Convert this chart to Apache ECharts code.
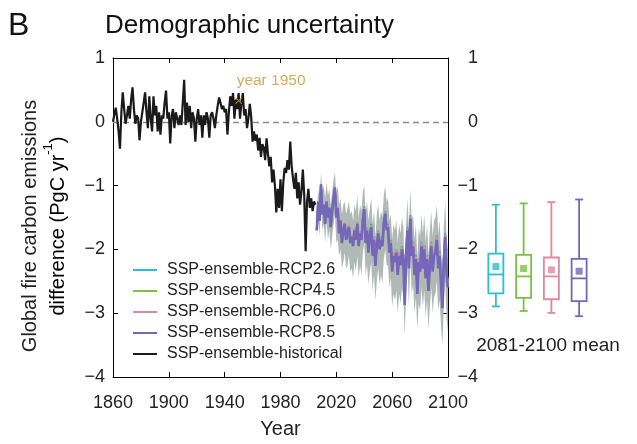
<!DOCTYPE html>
<html><head><meta charset="utf-8">
<script src="https://cdn.jsdelivr.net/npm/echarts@6/dist/echarts.min.js"></script>
<style>html,body{margin:0;padding:0;background:#fff}#c{width:637px;height:444px}</style>
</head><body><div id="c"></div>
<script>
// ---------------- data ----------------
const histStart = 1860;
const histValues = [
  0.00,0.12,0.22,0.05,-0.15,-0.42,0.15,0.46,0.20,-0.03,
  0.10,0.25,0.05,0.35,0.54,0.20,-0.03,0.10,0.06,-0.29,
  0.00,0.15,0.30,0.46,0.15,-0.10,0.40,0.05,-0.15,0.40,
  0.10,0.25,-0.15,0.15,-0.20,0.10,0.05,0.30,0.49,0.05,
  0.15,-0.34,0.10,0.20,-0.10,0.15,0.05,-0.05,0.10,-0.05,
  0.30,0.66,-0.05,0.30,0.00,0.25,-0.10,0.15,0.05,-0.31,
  0.05,0.20,-0.05,0.10,-0.25,0.10,-0.05,0.15,0.05,-0.25,
  0.10,0.15,0.05,-0.10,0.10,0.25,0.38,0.30,0.20,0.25,
  0.15,0.20,-0.20,0.15,0.40,0.25,0.45,0.05,0.35,0.20,
  0.45,0.05,0.30,0.45,0.10,0.20,-0.10,0.05,0.28,0.08,
  -0.31,-0.15,-0.30,-0.20,-0.45,-0.25,-0.55,-0.35,-0.40,-0.60,
  -0.26,-0.50,-0.70,-0.55,-0.95,-0.75,-1.00,-1.42,-1.05,-1.35,
  -0.90,-1.40,-0.95,-0.72,-0.80,-0.60,-0.75,-0.31,-0.70,-0.90,
  -1.05,-0.80,-1.20,-0.95,-1.30,-1.10,-0.75,-1.15,-2.03,-1.25,
  -1.05,-1.35,-1.20,-1.40,-1.25,-1.30
];
const futStart = 2006;
const rcp85 = [
  -1.70,-1.25,-1.55,-0.98,-1.45,-1.30,-1.60,-1.25,-1.50,-1.35,
  -1.65,-1.40,-1.20,-1.03,-1.50,-1.35,-1.75,-1.55,-1.90,-1.70,
  -1.60,-1.85,-1.75,-1.65,-1.90,-1.80,-1.95,-1.70,-1.85,-1.60,
  -1.95,-1.75,-1.85,-1.55,-1.37,-1.90,-1.70,-2.05,-1.80,-1.65,
  -2.10,-1.85,-2.26,-1.95,-1.75,-2.00,-1.85,-1.95,-1.60,-1.44,
  -1.70,-1.65,-2.05,-1.90,-2.35,-2.10,-2.20,-2.05,-2.40,-2.10,
  -2.25,-2.00,-2.15,-2.87,-2.10,-1.70,-2.30,-1.52,-2.10,-1.95,
  -2.40,-2.15,-2.70,-2.20,-2.35,-1.95,-2.30,-2.00,-2.45,-2.15,
  -2.65,-2.25,-1.95,-2.35,-2.10,-2.05,-1.85,-2.30,-2.10,-2.55,
  -2.92,-2.20,-1.80,-2.40,-2.60
];
const rcp26 = [
  -1.70,-1.25,-1.55,-0.98,-1.45,-1.30,-1.60,-1.25,-1.50,-1.35,
  -1.65,-1.40,-1.20,-1.03,-1.50,-1.35,-1.75,-1.55,-1.90,-1.70,
  -1.60,-1.84,-1.74,-1.63,-1.88,-1.78,-1.92,-1.68,-1.82,-1.57,
  -1.92,-1.72,-1.80,-1.50,-1.32,-1.86,-1.66,-2.00,-1.76,-1.60,
  -2.05,-1.80,-2.20,-1.90,-1.70,-1.95,-1.80,-1.90,-1.55,-1.40,
  -1.65,-1.60,-2.00,-1.85,-2.28,-2.05,-2.14,-2.00,-2.34,-2.05,
  -2.18,-1.95,-2.08,-2.80,-2.04,-1.64,-2.24,-1.46,-2.04,-1.88,
  -2.34,-2.08,-2.64,-2.14,-2.28,-1.88,-2.24,-1.94,-2.38,-2.08,
  -2.58,-2.18,-1.88,-2.28,-2.04,-1.98,-1.78,-2.24,-2.02,-2.48,
  -2.86,-2.14,-1.74,-2.34,-2.54
];
const rcp45 = [
  -1.70,-1.25,-1.55,-0.98,-1.45,-1.30,-1.60,-1.25,-1.50,-1.35,
  -1.65,-1.40,-1.20,-1.03,-1.50,-1.35,-1.75,-1.55,-1.90,-1.70,
  -1.60,-1.85,-1.74,-1.64,-1.89,-1.79,-1.94,-1.69,-1.84,-1.58,
  -1.93,-1.73,-1.82,-1.52,-1.34,-1.88,-1.68,-2.02,-1.78,-1.62,
  -2.07,-1.82,-2.22,-1.92,-1.72,-1.97,-1.82,-1.92,-1.57,-1.42,
  -1.67,-1.62,-2.02,-1.87,-2.31,-2.07,-2.17,-2.02,-2.37,-2.07,
  -2.21,-1.97,-2.11,-2.83,-2.07,-1.67,-2.27,-1.49,-2.07,-1.91,
  -2.37,-2.11,-2.67,-2.17,-2.31,-1.91,-2.27,-1.97,-2.41,-2.11,
  -2.61,-2.21,-1.91,-2.31,-2.07,-2.01,-1.81,-2.27,-2.06,-2.51,
  -2.89,-2.17,-1.77,-2.37,-2.57
];
const rcp60 = [
  -1.70,-1.25,-1.55,-0.98,-1.45,-1.30,-1.60,-1.25,-1.50,-1.35,
  -1.65,-1.40,-1.20,-1.03,-1.50,-1.35,-1.75,-1.55,-1.90,-1.70,
  -1.58,-1.83,-1.72,-1.62,-1.86,-1.77,-1.92,-1.67,-1.83,-1.58,
  -1.93,-1.73,-1.83,-1.53,-1.35,-1.88,-1.68,-2.03,-1.78,-1.63,
  -2.06,-1.82,-2.20,-1.91,-1.72,-1.97,-1.82,-1.93,-1.57,-1.42,
  -1.67,-1.62,-2.02,-1.88,-2.30,-2.06,-2.16,-2.02,-2.36,-2.06,
  -2.20,-1.97,-2.10,-2.82,-2.06,-1.67,-2.26,-1.49,-2.06,-1.91,
  -2.36,-2.11,-2.66,-2.16,-2.31,-1.90,-2.26,-1.96,-2.41,-2.10,
  -2.60,-2.21,-1.90,-2.30,-2.06,-2.00,-1.80,-2.26,-2.06,-2.50,
  -2.88,-2.16,-1.77,-2.36,-2.56
];
const bandUpper = [
  -1.45,-1.05,-1.25,-0.80,-1.10,-1.00,-1.20,-0.95,-1.15,-1.05,
  -1.30,-1.10,-0.90,-0.80,-1.15,-1.00,-1.30,-1.20,-1.45,-1.30,
  -1.25,-1.45,-1.35,-1.25,-1.45,-1.40,-1.55,-1.30,-1.40,-1.15,
  -1.50,-1.30,-1.40,-1.10,-1.00,-1.45,-1.25,-1.55,-1.35,-1.20,
  -1.60,-1.40,-1.80,-1.45,-1.30,-1.55,-1.40,-1.50,-1.15,-1.00,
  -1.25,-1.20,-1.55,-1.45,-1.85,-1.60,-1.70,-1.55,-1.90,-1.60,
  -1.75,-1.50,-1.65,-2.30,-1.60,-1.20,-1.75,-1.05,-1.55,-1.45,
  -1.85,-1.60,-2.15,-1.65,-1.80,-1.45,-1.75,-1.45,-1.90,-1.60,
  -2.10,-1.70,-1.40,-1.80,-1.55,-1.50,-1.30,-1.75,-1.55,-2.00,
  -2.35,-1.65,-1.25,-1.85,-2.00
];
const bandLower = [
  -1.85,-1.45,-1.80,-1.30,-1.70,-1.60,-1.90,-1.55,-1.85,-1.70,
  -2.00,-1.80,-1.60,-1.45,-1.90,-1.85,-2.10,-2.00,-2.30,-2.20,
  -2.05,-2.30,-2.25,-2.10,-2.35,-2.30,-2.45,-2.20,-2.35,-2.10,
  -2.45,-2.25,-2.40,-2.05,-1.90,-2.40,-2.25,-2.55,-2.35,-2.20,
  -2.65,-2.40,-2.80,-2.50,-2.30,-2.55,-2.40,-2.55,-2.15,-2.00,
  -2.25,-2.25,-2.60,-2.45,-2.90,-2.70,-2.80,-2.65,-3.00,-2.70,
  -2.85,-2.60,-2.75,-3.35,-2.70,-2.30,-2.90,-2.15,-2.70,-2.55,
  -3.00,-2.75,-3.25,-2.85,-2.95,-2.60,-2.90,-2.65,-3.05,-2.80,
  -3.25,-2.90,-2.60,-3.00,-2.75,-2.70,-2.50,-2.95,-2.80,-3.20,
  -3.50,-2.90,-2.50,-3.10,-3.30
];
const seriesNames = ['SSP-ensemble-RCP2.6','SSP-ensemble-RCP4.5','SSP-ensemble-RCP6.0','SSP-ensemble-RCP8.5','SSP-ensemble-historical'];
// 2081-2100 mean box plots: [min, q1, median, q3, max]
const boxStats = [
  [-2.81,-2.61,-2.32,-2.00,-1.25],
  [-2.88,-2.68,-2.35,-2.02,-1.23],
  [-2.91,-2.70,-2.35,-2.06,-1.21],
  [-2.96,-2.73,-2.38,-2.08,-1.17]
];
const boxMeans = [-2.20,-2.23,-2.25,-2.27];
const markerYear = 1950, markerValue = 0.33;
const xTickMin = 1860, xTickMax = 2100, xTickStep = 40;
const yTickMin = -4, yTickMax = 1, yTickStep = 1;

// ---------------- styling ----------------
const COLORS = ['#2BBDD0','#79C143','#E0889C','#7466B8','#1a1a1a'];
const FONT = 'Liberation Sans, Arial, Helvetica, sans-serif';
const TXT = '#222';
const fmtMinus = v => String(v).replace('-', '\u2212');

const histData = histValues.map((v,i)=>[histStart+i, v]);
const toFut = arr => arr.map((v,i)=>[futStart+i, v]);
const bandData = bandUpper.map((u,i)=>[futStart+i, bandLower[i], u]);

const chart = echarts.init(document.getElementById('c'), null, {renderer:'canvas'});

const lineSeries = (name, arr, color, w, z) => ({
  name, type:'line', data: toFut(arr), xAxisIndex:0, yAxisIndex:0,
  symbol:'none', showSymbol:false, z,
  lineStyle:{color, width:w}, itemStyle:{color}
});

const axisLineStyle = {show:true, onZero:false, lineStyle:{color:'#000', width:1}};
const tickStyle = {show:true, inside:true, length:5, lineStyle:{color:'#000'}};

const option = {
  animation:false,
  textStyle:{fontFamily:FONT},
  grid:[
    {left:113, top:58, width:335, height:326},
    {left:482, top:58, width:111, height:326}
  ],
  xAxis:[
    {gridIndex:0, type:'value', min:xTickMin, max:xTickMax, interval:xTickStep, position:'bottom',
     axisLine:axisLineStyle, axisTick:tickStyle,
     axisLabel:{fontSize:18, color:TXT, margin:17, fontFamily:FONT, formatter:v=>String(v)}, splitLine:{show:false},
     name:'Year', nameLocation:'middle', nameGap:42, nameTextStyle:{fontSize:20, color:TXT, fontFamily:FONT}},
    {gridIndex:0, type:'value', min:xTickMin, max:xTickMax, interval:xTickStep, position:'top',
     axisLine:axisLineStyle, axisTick:tickStyle, axisLabel:{show:false}, splitLine:{show:false}},
    {gridIndex:1, type:'value', min:0, max:4, show:false}
  ],
  yAxis:[
    {gridIndex:0, type:'value', min:yTickMin, max:yTickMax, interval:yTickStep, position:'left',
     axisLine:axisLineStyle, axisTick:tickStyle,
     axisLabel:{fontSize:18, color:TXT, margin:8, formatter:fmtMinus, fontFamily:FONT}, splitLine:{show:false}},
    {gridIndex:0, type:'value', min:yTickMin, max:yTickMax, interval:yTickStep, position:'right',
     axisLine:axisLineStyle, axisTick:tickStyle,
     axisLabel:{fontSize:18, color:TXT, margin:30, align:'right', formatter:fmtMinus, fontFamily:FONT}, splitLine:{show:false}},
    {gridIndex:1, type:'value', min:yTickMin, max:yTickMax, show:false}
  ],
  legend:{
    orient:'vertical', left:128, top:256, itemWidth:24, itemHeight:14, itemGap:3,
    data:seriesNames, icon:'path://M0,6L24,6L24,8L0,8Z',
    textStyle:{fontSize:16, lineHeight:18, color:TXT, fontFamily:FONT, padding:[0,0,0,5]}
  },
  graphic:[
    {type:'text', left:8, top:10, style:{text:'B', font:'32px '+FONT, fill:'#111'}},
    {type:'text', x:105, y:26, style:{text:'Demographic uncertainty', font:'26px '+FONT, fill:'#111', verticalAlign:'middle', align:'left'}},
    {type:'text', x:30, y:226, rotation:Math.PI/2, style:{text:'Global fire carbon emissions', font:'20px '+FONT, fill:TXT, align:'center', verticalAlign:'middle'}},
    {type:'text', x:55, y:226, rotation:Math.PI/2, style:{
      text:'{a|difference (PgC yr}{s|-1}{a|)}', align:'center', verticalAlign:'middle',
      rich:{a:{fontSize:20, fontFamily:FONT, color:TXT, lineHeight:26, verticalAlign:'bottom'},
            s:{fontSize:13, fontFamily:FONT, color:TXT, lineHeight:26, verticalAlign:'top'}}}},
    {type:'text', x:548, y:346, style:{text:'2081-2100 mean', font:'19px '+FONT, fill:TXT, align:'center', verticalAlign:'middle'}}
  ],
  series:[
    {name:'band', type:'custom', xAxisIndex:0, yAxisIndex:0, z:1, silent:true,
     data:bandData,
     renderItem:(params, api)=>{
       if (params.dataIndex !== 0) return null;
       const top = bandData.map(d=>api.coord([d[0], d[2]]));
       const bot = bandData.map(d=>api.coord([d[0], d[1]])).reverse();
       return {type:'polygon', shape:{points:top.concat(bot)}, style:{fill:'#A9B3B0', opacity:0.92}};
     },
     markLine:{silent:true, symbol:['none','none'], label:{show:false}, data:[{yAxis:0}],
       lineStyle:{color:'#8a8a8a', type:[6,4], width:1.3}}},
    lineSeries(seriesNames[0], rcp26, COLORS[0], 2, 3),
    lineSeries(seriesNames[1], rcp45, COLORS[1], 2, 3),
    lineSeries(seriesNames[2], rcp60, COLORS[2], 2, 3),
    lineSeries(seriesNames[3], rcp85, COLORS[3], 2.6, 4),
    {name:seriesNames[4], type:'line', data:histData, symbol:'none', z:5,
     lineStyle:{color:COLORS[4], width:2.2}, itemStyle:{color:COLORS[4]}},
    {name:'marker', type:'scatter', data:[[markerYear, markerValue]], z:6,
     symbol:'path://M0,1L1,0L5,4L9,0L10,1L6,5L10,9L9,10L5,6L1,10L0,9L4,5Z', symbolSize:7,
     itemStyle:{color:'#C9962B'},
     label:{show:true, position:'top', align:'left', offset:[-2,-4], formatter:'year 1950', fontSize:15.5, color:'#C9962B', fontFamily:FONT}},
    {name:'boxes', type:'custom', xAxisIndex:2, yAxisIndex:2, z:5,
     data:boxStats.map((s,i)=>[i+0.5].concat(s)),
     renderItem:(params, api)=>{
       const x = api.value(0);
       const c = COLORS[params.dataIndex];
       const pMin = api.coord([x, api.value(1)]), pQ1 = api.coord([x, api.value(2)]),
             pMed = api.coord([x, api.value(3)]), pQ3 = api.coord([x, api.value(4)]),
             pMax = api.coord([x, api.value(5)]);
       const cx = pMin[0], hw = 7.5, cw = 4;
       const ls = {stroke:c, lineWidth:1.8, fill:null};
       return {type:'group', children:[
         {type:'line', shape:{x1:cx, y1:pMax[1], x2:cx, y2:pQ3[1]}, style:ls},
         {type:'line', shape:{x1:cx, y1:pQ1[1], x2:cx, y2:pMin[1]}, style:ls},
         {type:'line', shape:{x1:cx-cw, y1:pMax[1], x2:cx+cw, y2:pMax[1]}, style:ls},
         {type:'line', shape:{x1:cx-cw, y1:pMin[1], x2:cx+cw, y2:pMin[1]}, style:ls},
         {type:'rect', shape:{x:cx-hw, y:pQ3[1], width:2*hw, height:pQ1[1]-pQ3[1]}, style:{stroke:c, lineWidth:1.8, fill:'#fff'}},
         {type:'line', shape:{x1:cx-hw, y1:pMed[1], x2:cx+hw, y2:pMed[1]}, style:ls}
       ]};
     }},
    {name:'means', type:'scatter', xAxisIndex:2, yAxisIndex:2, z:6, symbol:'rect', symbolSize:7,
     data:boxMeans.map((m,i)=>({value:[i+0.5, m], itemStyle:{color:COLORS[i]}}))}
  ]
};
chart.setOption(option);
</script></body></html>
